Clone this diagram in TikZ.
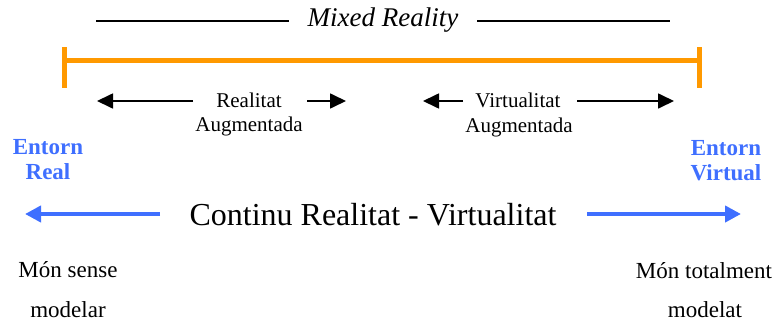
\documentclass[tikz,border=0pt]{standalone}
\usepackage{fontspec}
\setmainfont{Liberation Serif}
\usetikzlibrary{arrows.meta}
\definecolor{mrorange}{HTML}{FF9900}
\definecolor{envblue}{HTML}{3F6FFF}
\begin{document}
\begin{tikzpicture}[x=1pt,y=-1pt,
  txt/.style={inner sep=0pt,font=\fontsize{21}{24}\selectfont},
  worldtxt/.style={inner sep=0pt,font=\fontsize{23}{26}\selectfont},
  envlabel/.style={inner sep=0pt,align=center,text=envblue,font=\bfseries\fontsize{23}{25}\selectfont},
  thinarrow/.style={line width=1.7pt,-{Triangle[length=16pt,width=15pt]}},
  bluearrow/.style={envblue,line width=4.6pt,-{Triangle[length=16pt,width=16pt]}},
  orangebar/.style={mrorange,line width=5pt}]
\useasboundingbox (0,0) rectangle (778,324);

% Mixed Reality span
\node[inner sep=0pt,font=\itshape\fontsize{27}{30}\selectfont] (mr) at (383,20) {Mixed Reality};
\coordinate (mrl) at (96,21);
\coordinate (mrr) at (670,21);
\draw[line width=1.3pt] (mrl) -- (289,21);
\draw[line width=1.3pt] (477,21) -- (mrr);

% orange range bar
\coordinate (ol) at (64,60);
\coordinate (or) at (699,60);
\draw[orangebar] (ol) -- (or);
\draw[orangebar] (64,47) -- (64,88);
\draw[orangebar] (699,47) -- (699,88);

% Augmented reality
\node[txt] (ar1) at (249,100) {Realitat};
\node[txt] (ar2) at (249,126) {Augmentada};
\coordinate (arl) at (97,101);
\coordinate (arr) at (346,101);
\draw[thinarrow] (193,101) -- (arl);
\draw[thinarrow] (307,101) -- (arr);

% Augmented virtuality
\node[txt] (av1) at (518,100) {Virtualitat};
\node[txt] (av2) at (519,127) {Augmentada};
\coordinate (avl) at (423,101);
\coordinate (avr) at (674,101);
\draw[thinarrow] (463,101) -- (avl);
\draw[thinarrow] (577,101) -- (avr);

% environment labels
\node[envlabel] (er) at (48,160) {Entorn\\Real};
\node[envlabel] (ev) at (726,161) {Entorn\\Virtual};

% continuum
\node[inner sep=0pt,font=\fontsize{32}{36}\selectfont] (cont) at (373,215) {Continu Realitat - Virtualitat};
\coordinate (cl) at (25,214);
\coordinate (cr) at (741,214);
\draw[bluearrow] (160,214) -- (cl);
\draw[bluearrow] (587,214) -- (cr);

% world descriptions
\node[worldtxt] (ms1) at (68,270) {Món sense};
\node[worldtxt] (ms2) at (68,310) {modelar};
\node[worldtxt] (mt1) at (704,271) {Món totalment};
\node[worldtxt] (mt2) at (705,310) {modelat};
\end{tikzpicture}
\end{document}
